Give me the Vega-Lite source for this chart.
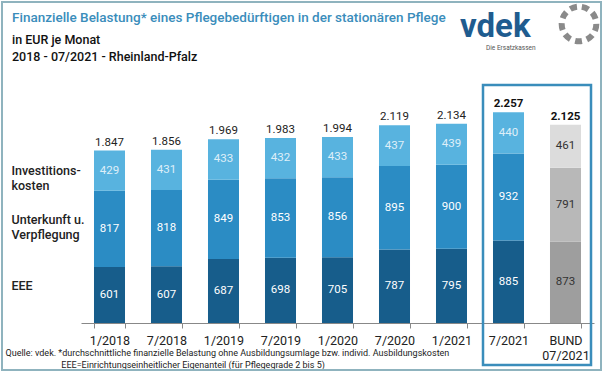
{
  "$schema": "https://vega.github.io/schema/vega-lite/v6.json",
  "autosize": "none",
  "width": 513,
  "height": 224,
  "padding": {"left": 81, "top": 99, "right": 10, "bottom": 50},
  "background": "white",
  "config": {
    "view": {"stroke": null},
    "locale": {"number": {"decimal": ",", "thousands": ".", "grouping": [3], "currency": ["", " €"]}},
    "font": "Roboto"
  },
  "title": {
    "text": "Finanzielle Belastung* eines Pflegebedürftigen in der stationären Pflege",
    "subtitle": ["in EUR je Monat", "2018 - 07/2021 - Rheinland-Pfalz"],
    "anchor": "start",
    "frame": "group",
    "dx": -69,
    "offset": -69,
    "font": "Roboto",
    "fontSize": 13.5,
    "fontWeight": 500,
    "color": "#3a8dbb",
    "subtitleFont": "Roboto",
    "subtitleFontSize": 12.5,
    "subtitleFontWeight": 500,
    "subtitleColor": "#111111",
    "subtitlePadding": 10,
    "subtitleLineHeight": 17
  },
  "datasets": {
    "pflege": [
      {"period": "1/2018", "cat": "EEE", "value": 601},
      {"period": "1/2018", "cat": "Unterkunft u. Verpflegung", "value": 817},
      {"period": "1/2018", "cat": "Investitionskosten", "value": 429},
      {"period": "7/2018", "cat": "EEE", "value": 607},
      {"period": "7/2018", "cat": "Unterkunft u. Verpflegung", "value": 818},
      {"period": "7/2018", "cat": "Investitionskosten", "value": 431},
      {"period": "1/2019", "cat": "EEE", "value": 687},
      {"period": "1/2019", "cat": "Unterkunft u. Verpflegung", "value": 849},
      {"period": "1/2019", "cat": "Investitionskosten", "value": 433},
      {"period": "7/2019", "cat": "EEE", "value": 698},
      {"period": "7/2019", "cat": "Unterkunft u. Verpflegung", "value": 853},
      {"period": "7/2019", "cat": "Investitionskosten", "value": 432},
      {"period": "1/2020", "cat": "EEE", "value": 705},
      {"period": "1/2020", "cat": "Unterkunft u. Verpflegung", "value": 856},
      {"period": "1/2020", "cat": "Investitionskosten", "value": 433},
      {"period": "7/2020", "cat": "EEE", "value": 787},
      {"period": "7/2020", "cat": "Unterkunft u. Verpflegung", "value": 895},
      {"period": "7/2020", "cat": "Investitionskosten", "value": 437},
      {"period": "1/2021", "cat": "EEE", "value": 795},
      {"period": "1/2021", "cat": "Unterkunft u. Verpflegung", "value": 900},
      {"period": "1/2021", "cat": "Investitionskosten", "value": 439},
      {"period": "7/2021", "cat": "EEE", "value": 885},
      {"period": "7/2021", "cat": "Unterkunft u. Verpflegung", "value": 932},
      {"period": "7/2021", "cat": "Investitionskosten", "value": 440},
      {"period": "BUND 07/2021", "cat": "EEE", "value": 873},
      {"period": "BUND 07/2021", "cat": "Unterkunft u. Verpflegung", "value": 791},
      {"period": "BUND 07/2021", "cat": "Investitionskosten", "value": 461}
    ]
  },
  "encoding": {
    "x": {
      "field": "period",
      "type": "nominal",
      "sort": null,
      "scale": {"paddingInner": 0.456, "paddingOuter": 0.228},
      "axis": {
        "labelAngle": 0,
        "labelExpr": "(isString(datum.value) && datum.value !== 'undefined') ? split(datum.value, ' ') : ''",
        "labelFont": "Roboto",
        "labelFontSize": 12.5,
        "labelColor": "#222222",
        "labelPadding": 6,
        "labelLineHeight": 15,
        "labelBaseline": "top",
        "domainColor": "#888888",
        "tickColor": "#888888",
        "tickBand": "extent",
        "tickSize": 5,
        "title": [
          "Quelle: vdek. *durchschnittliche finanzielle Belastung ohne Ausbildungsumlage bzw. individ. Ausbildungskosten",
          "\u200b\u00a0\u00a0\u00a0\u00a0\u00a0\u00a0\u00a0\u00a0\u00a0\u00a0\u00a0\u00a0\u00a0\u00a0\u00a0\u00a0\u00a0\u00a0\u00a0\u00a0\u00a0\u00a0\u00a0\u00a0\u00a0EEE=Einrichtungseinheitlicher Eigenanteil (für Pflegegrade 2 bis 5)"
        ],
        "titleFont": "Roboto",
        "titleFontSize": 9,
        "titleFontWeight": "normal",
        "titleColor": "#222222",
        "titleAnchor": "start",
        "titleAlign": "left",
        "titleBaseline": "top",
        "titleX": -76,
        "titleY": 25,
        "titleLineHeight": 12
      }
    }
  },
  "layer": [
    {
      "data": {"values": [{}]},
      "mark": {"type": "rect", "fill": null, "stroke": "#8fb3be", "strokeWidth": 2},
      "encoding": {
        "x": {"value": -79},
        "x2": {"value": 520},
        "y": {"value": -97},
        "y2": {"value": 271}
      }
    },
    {
      "data": {"name": "pflege"},
      "transform": [
        {"calculate": "indexof(['EEE','Unterkunft u. Verpflegung','Investitionskosten'], datum.cat)", "as": "ord"},
        {"calculate": "(datum.period === 'BUND 07/2021' ? 'B-' : '') + datum.cat", "as": "key"},
        {"stack": "value", "groupby": ["period"], "sort": [{"field": "ord", "order": "ascending"}], "as": ["y0", "y1"]}
      ],
      "mark": {"type": "bar"},
      "encoding": {
        "y": {
          "field": "y0",
          "type": "quantitative",
          "scale": {"domain": [0, 2400], "nice": false, "zero": true},
          "axis": {
            "values": [403, 1106, 1631],
            "labelExpr": "datum.value < 500 ? 'EEE' : datum.value < 1300 ? ['Unterkunft u.', 'Verpflegung'] : ['Investitions-', 'kosten']",
            "labelAlign": "left",
            "labelBaseline": "middle",
            "labelPadding": 70,
            "labelFont": "Roboto",
            "labelFontSize": 12.5,
            "labelFontWeight": 500,
            "labelColor": "#222222",
            "labelLineHeight": 15,
            "labelFlush": false,
            "labelOverlap": false,
            "labelBound": false,
            "ticks": false,
            "tickSize": 0,
            "domain": false,
            "grid": false,
            "title": null
          }
        },
        "y2": {"field": "y1"},
        "color": {
          "field": "key",
          "type": "nominal",
          "legend": null,
          "scale": {
            "domain": ["EEE", "Unterkunft u. Verpflegung", "Investitionskosten", "B-EEE", "B-Unterkunft u. Verpflegung", "B-Investitionskosten"],
            "range": ["#175d8b", "#2b8cc4", "#58b3df", "#9e9e9e", "#b8b8b8", "#dcdcdc"]
          }
        }
      }
    },
    {
      "data": {"name": "pflege"},
      "transform": [
        {"calculate": "indexof(['EEE','Unterkunft u. Verpflegung','Investitionskosten'], datum.cat)", "as": "ord"},
        {"stack": "value", "groupby": ["period"], "sort": [{"field": "ord", "order": "ascending"}], "as": ["y0", "y1"]},
        {"calculate": "(datum.y0 + datum.y1) / 2", "as": "mid"}
      ],
      "mark": {"type": "text", "font": "Roboto", "fontSize": 11.5, "baseline": "middle"},
      "encoding": {
        "y": {"field": "mid", "type": "quantitative"},
        "text": {"field": "value", "type": "quantitative", "format": "d"},
        "color": {
          "condition": {"test": "datum.period === 'BUND 07/2021'", "value": "#333333"},
          "value": "#ffffff"
        },
        "opacity": {
          "condition": {"test": "datum.cat === 'Investitionskosten' && datum.period !== 'BUND 07/2021'", "value": 0.8},
          "value": 1
        }
      }
    },
    {
      "data": {"name": "pflege"},
      "transform": [
        {"aggregate": [{"op": "sum", "field": "value", "as": "total"}], "groupby": ["period"]},
        {"filter": "datum.period !== '7/2021' && datum.period !== 'BUND 07/2021'"}
      ],
      "mark": {"type": "text", "font": "Roboto", "fontSize": 11.5, "baseline": "bottom", "dy": -3, "color": "#222222"},
      "encoding": {
        "y": {"field": "total", "type": "quantitative"},
        "text": {"field": "total", "type": "quantitative", "format": ",d"}
      }
    },
    {
      "data": {"name": "pflege"},
      "transform": [
        {"aggregate": [{"op": "sum", "field": "value", "as": "total"}], "groupby": ["period"]},
        {"filter": "datum.period === '7/2021' || datum.period === 'BUND 07/2021'"}
      ],
      "mark": {"type": "text", "font": "Roboto", "fontSize": 11.5, "fontWeight": "bold", "baseline": "bottom", "dy": -3, "color": "#111111"},
      "encoding": {
        "y": {"field": "total", "type": "quantitative"},
        "text": {"field": "total", "type": "quantitative", "format": ",d"}
      }
    },
    {
      "data": {"values": [{}]},
      "mark": {"type": "rect", "fill": null, "stroke": "#3a8dbb", "strokeWidth": 2.5},
      "encoding": {
        "x": {"value": 402},
        "x2": {"value": 510},
        "y": {"value": -14},
        "y2": {"value": 266}
      }
    },
    {
      "data": {"values": [{"logo": "vdek"}]},
      "mark": {"type": "text", "font": "Roboto", "fontSize": 33, "fontWeight": "bold", "color": "#1f5c8f", "align": "left", "baseline": "alphabetic"},
      "encoding": {
        "x": {"value": 379},
        "y": {"value": -62},
        "text": {"field": "logo"}
      }
    },
    {
      "data": {"values": [{"logo": "Die Ersatzkassen"}]},
      "mark": {"type": "text", "font": "Roboto", "fontSize": 6.5, "color": "#555555", "align": "left", "baseline": "middle"},
      "encoding": {
        "x": {"value": 405},
        "y": {"value": -51},
        "text": {"field": "logo"}
      }
    },
    {
      "data": {"values": [{}]},
      "mark": {"type": "point", "shape": "circle", "filled": false, "stroke": "#8a8a8a", "strokeWidth": 6, "strokeDash": [7, 5], "size": 1200, "opacity": 1},
      "encoding": {
        "x": {"value": 498},
        "y": {"value": -75}
      }
    }
  ]
}
